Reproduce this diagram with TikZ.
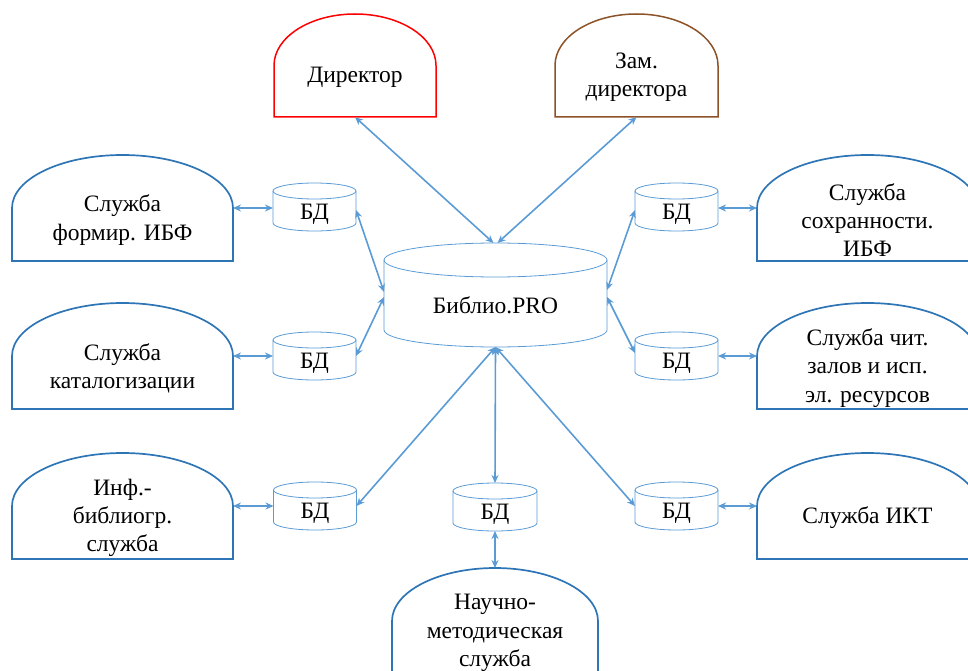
\documentclass[tikz,border=0pt]{standalone}
\usepackage{fontspec}
\setmainfont{Liberation Serif}
\newfontfamily\tnr{Liberation Serif}
\usetikzlibrary{arrows.meta}
\definecolor{boxblue}{RGB}{46,117,182}
\definecolor{lineblue}{RGB}{91,155,213}
\definecolor{brownc}{RGB}{140,82,40}
\newcommand\drawarch[4]{%
  \draw[#1] (#2.south west) -- ([yshift=-#4]#2.north west)
    arc[start angle=180,end angle=0,x radius=#3,y radius=#4] -- (#2.south east) -- cycle;}
\newcommand\drawcyl[3]{%
  \draw[cylline] ([yshift=-#3]#1.north) ellipse[x radius=#2,y radius=#3];
  \draw[cylline] ([yshift=-#3]#1.north west) -- ([yshift=#3]#1.south west)
    arc[start angle=180,end angle=360,x radius=#2,y radius=#3] -- ([yshift=-#3]#1.north east);}
\tikzset{
  frame/.style={draw=none,inner sep=0pt,outer sep=0pt,rectangle},
  bigbox/.style={frame,minimum width=221pt,minimum height=106pt},
  dbbox/.style={frame,minimum width=83pt,minimum height=48pt},
  lbl/.style={align=center,yshift=-12pt,font=\tnr\fontsize{23.5}{28.2}\selectfont},
  dblbl/.style={align=center,yshift=-7pt,font=\tnr\fontsize{23.5}{28.2}\selectfont},
  arch/.style={draw=boxblue,line width=1.7pt},
  cylline/.style={draw=lineblue,line width=0.8pt},
  conn/.style={draw=lineblue,line width=1.6pt,{Stealth[length=8pt,width=7pt]}-{Stealth[length=8pt,width=7pt]}}
}
\begin{document}
\begin{tikzpicture}[x=1pt,y=-1pt]
\useasboundingbox (0,0) rectangle (968,671);
\clip (0,0) rectangle (968,671);
% top boxes
\node[frame,minimum width=162pt,minimum height=103pt,label={[lbl]center:Директор}] (dir) at (355,65.5) {};
\node[frame,minimum width=163pt,minimum height=103pt,label={[lbl]center:{Зам.\\директора}}] (zam) at (636.5,65.5) {};
% central cylinder
\node[frame,minimum width=223pt,minimum height=104pt,label={[lbl,yshift=2pt]center:Библио.PRO}] (bp) at (495.5,295) {};
% databases
\node[dbbox,label={[dblbl]center:БД}] (dbL1) at (314.5,207) {};
\node[dbbox,label={[dblbl]center:БД}] (dbL2) at (314.5,356) {};
\node[dbbox,label={[dblbl]center:БД}] (dbL3) at (315,506) {};
\node[dbbox,label={[dblbl]center:БД}] (dbR1) at (676.5,207) {};
\node[dbbox,label={[dblbl]center:БД}] (dbR2) at (676.5,356) {};
\node[dbbox,label={[dblbl]center:БД}] (dbR3) at (676.5,506) {};
\node[dbbox,minimum width=84pt,label={[dblbl]center:БД}] (dbC) at (495,507) {};
% side boxes
\node[bigbox,label={[lbl]center:{Служба\\формир. ИБФ}}] (bL1) at (122.5,208) {};
\node[bigbox,label={[lbl]center:{Служба\\каталогизации}}] (bL2) at (122.5,356) {};
\node[bigbox,label={[lbl]center:{Инф.-\\библиогр.\\служба}}] (bL3) at (122.5,506) {};
\node[bigbox,label={[lbl]center:{Служба\\сохранности.\\ИБФ}}] (bR1) at (867.5,208) {};
\node[bigbox,label={[lbl]center:{Служба чит.\\залов и исп.\\эл. ресурсов}}] (bR2) at (867.5,356) {};
\node[bigbox,label={[lbl]center:Служба ИКТ}] (bR3) at (867.5,506) {};
\node[bigbox,minimum width=206pt,label={[lbl]center:{Научно-\\методическая\\служба}}] (nm) at (495,621) {};
% outlines
\drawarch{draw=red,line width=1.5pt,fill=none}{dir}{81pt}{51.5pt}
\drawarch{draw=brownc,line width=1.5pt,fill=none}{zam}{81.5pt}{51.5pt}
\drawarch{arch}{bL1}{110.5pt}{53pt}
\drawarch{arch}{bL2}{110.5pt}{53pt}
\drawarch{arch}{bL3}{110.5pt}{53pt}
\drawarch{arch}{bR1}{110.5pt}{53pt}
\drawarch{arch}{bR2}{110.5pt}{53pt}
\drawarch{arch}{bR3}{110.5pt}{53pt}
\drawarch{arch}{nm}{103pt}{53pt}
\drawcyl{bp}{111.5pt}{17pt}
\drawcyl{dbL1}{41.5pt}{8pt}
\drawcyl{dbL2}{41.5pt}{8pt}
\drawcyl{dbL3}{41.5pt}{8pt}
\drawcyl{dbR1}{41.5pt}{8pt}
\drawcyl{dbR2}{41.5pt}{8pt}
\drawcyl{dbR3}{41.5pt}{8pt}
\drawcyl{dbC}{42pt}{8pt}
% connectors
\draw[conn] (dir.south) -- ([xshift=-2pt]bp.north);
\draw[conn] (zam.south) -- ([xshift=2pt]bp.north);
\draw[conn] ([yshift=-3pt]dbL1.east) -- ([yshift=3pt]bp.west);
\draw[conn] (dbL2.east) -- ([yshift=-2pt]bp.west);
\draw[conn] ([yshift=-3pt]dbR1.west) -- ([yshift=5pt]bp.east);
\draw[conn] ([yshift=3pt]dbR2.west) -- ([yshift=-2pt]bp.east);
\draw[conn] (bp.south) -- (dbL3.east);
\draw[conn] (bp.south) -- (dbC.north);
\draw[conn] (bp.south) -- (dbR3.west);
\draw[conn] (bL1.east) -- (bL1.east -| dbL1.west);
\draw[conn] (bL2.east) -- (bL2.east -| dbL2.west);
\draw[conn] (bL3.east) -- (bL3.east -| dbL3.west);
\draw[conn] (bR1.west) -- (bR1.west -| dbR1.east);
\draw[conn] (bR2.west) -- (bR2.west -| dbR2.east);
\draw[conn] (bR3.west) -- (bR3.west -| dbR3.east);
\draw[conn] (dbC.south) -- (nm.north);
\end{tikzpicture}
\end{document}
